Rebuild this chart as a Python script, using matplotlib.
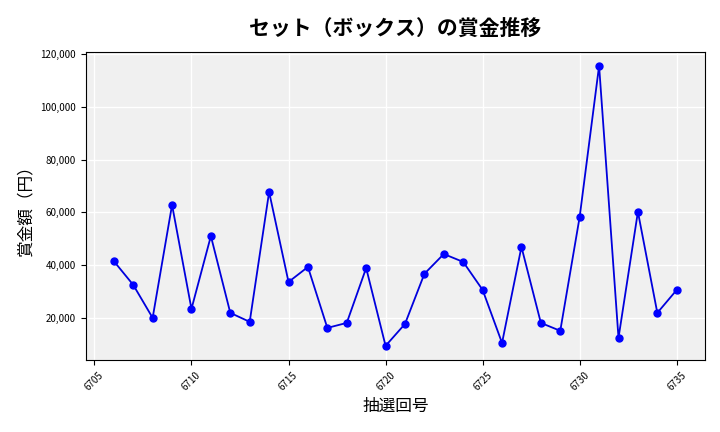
import matplotlib
matplotlib.use("Agg")
import matplotlib.pyplot as plt
from matplotlib.ticker import FuncFormatter

plt.rcParams['font.family'] = ['Noto Sans CJK JP', 'DejaVu Sans']

draws = list(range(6706, 6736))
prizes = [41500, 32500, 20000, 62800, 23400, 51000, 21900, 18500, 67700, 33600,
          39300, 16200, 18100, 38900, 9400, 17700, 36700, 44200, 41200, 30600,
          10500, 46900, 18100, 15100, 58300, 115500, 12400, 60200, 21900, 30600]

fig, ax = plt.subplots(figsize=(7.2, 4.32), dpi=100)
ax.set_facecolor('#f0f0f0')
ax.grid(True, color='white', linewidth=1)
ax.set_axisbelow(True)
ax.plot(draws, prizes, color='#0000dd', marker='o', markersize=5, linewidth=1.3,
        markerfacecolor='blue', markeredgecolor='blue')
ax.set_title('セット（ボックス）の賞金推移', fontsize=15, fontweight='bold', pad=12)
ax.set_xlabel('抽選回号', fontsize=12)
ax.set_ylabel('賞金額（円）', fontsize=12)
ax.yaxis.set_major_formatter(FuncFormatter(lambda v, p: f'{int(v):,}'))
ax.set_xticks(range(6705, 6736, 5))
ax.tick_params(axis='x', labelrotation=45, labelsize=7)
ax.tick_params(axis='y', labelsize=7)
fig.subplots_adjust(left=0.119, right=0.979, top=0.880, bottom=0.167)
plt.savefig('out.png')
